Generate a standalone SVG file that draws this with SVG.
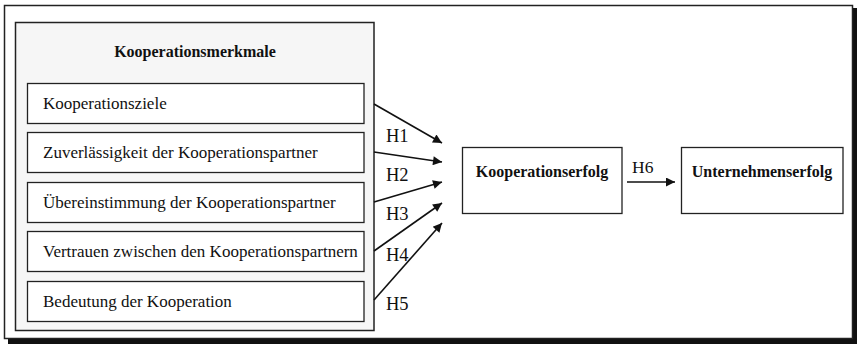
<svg xmlns="http://www.w3.org/2000/svg" width="857" height="344" viewBox="0 0 857 344">
<style>
.frame{fill:#fff;stroke:#222;stroke-width:1.5}
.box{fill:#fff;stroke:#222;stroke-width:1.3}
.t{font-family:"Liberation Serif","Times New Roman",serif;fill:#111}
.item{font-size:17px}
.b{font-size:16px;font-weight:bold;text-anchor:middle}
.h{font-size:18.5px}
.con{stroke:#111;stroke-width:1.6;fill:none;marker-end:url(#ah)}
</style>
<defs>
<marker id="ah" viewBox="0 0 10 10" refX="10" refY="5" markerUnits="userSpaceOnUse" markerWidth="11" markerHeight="9" orient="auto">
<path d="M0,0 L10,5 L0,10 z" fill="#111"/>
</marker>
</defs>
<rect x="0" y="0" width="857" height="344" fill="#fff"/>
<g id="frame">
<rect x="852" y="8" width="5" height="336" fill="#111"/>
<rect x="8" y="339" width="849" height="5" fill="#111"/>
<rect x="4.5" y="5.5" width="848" height="333" class="frame"/>
</g>
<g id="kooperationsmerkmale">
<rect x="15.5" y="22.5" width="358.5" height="308" fill="#f6f6f6" stroke="#222" stroke-width="1.5"/>
<text x="195" y="57" class="t b">Kooperationsmerkmale</text>
</g>
<g id="n1">
<rect x="27.5" y="83.5" width="336.5" height="40" class="box"/>
<text x="43" y="109" class="t item">Kooperationsziele</text>
</g>
<g id="n2">
<rect x="27.5" y="132.5" width="336.5" height="40" class="box"/>
<text x="43" y="158" class="t item">Zuverlässigkeit der Kooperationspartner</text>
</g>
<g id="n3">
<rect x="27.5" y="182.5" width="336.5" height="40" class="box"/>
<text x="43" y="207.5" class="t item">Übereinstimmung der Kooperationspartner</text>
</g>
<g id="n4">
<rect x="27.5" y="231.5" width="336.5" height="40" class="box"/>
<text x="43" y="257" class="t item">Vertrauen zwischen den Kooperationspartnern</text>
</g>
<g id="n5">
<rect x="27.5" y="281.5" width="336.5" height="40" class="box"/>
<text x="43" y="307" class="t item">Bedeutung der Kooperation</text>
</g>
<g id="kooperationserfolg">
<rect x="462.5" y="147.5" width="159.5" height="66" class="box"/>
<text x="542" y="177" class="t b">Kooperationserfolg</text>
</g>
<g id="unternehmenserfolg">
<rect x="681.5" y="147.5" width="161.5" height="66" class="box"/>
<text x="762" y="177" class="t b">Unternehmenserfolg</text>
</g>
<g id="connectors">
<line x1="374" y1="104" x2="442" y2="143" class="con"/>
<line x1="374" y1="152" x2="442" y2="162" class="con"/>
<line x1="374" y1="202" x2="442" y2="182" class="con"/>
<line x1="374" y1="251" x2="442" y2="203" class="con"/>
<line x1="374" y1="300" x2="442" y2="223" class="con"/>
<line x1="627" y1="182" x2="675" y2="182" class="con"/>
<text x="386" y="142" class="t h">H1</text>
<text x="386" y="181" class="t h">H2</text>
<text x="386" y="220" class="t h">H3</text>
<text x="386" y="261" class="t h">H4</text>
<text x="386" y="310" class="t h">H5</text>
<text x="632" y="173" class="t h" style="font-size:17.5px">H6</text>
</g>
</svg>
